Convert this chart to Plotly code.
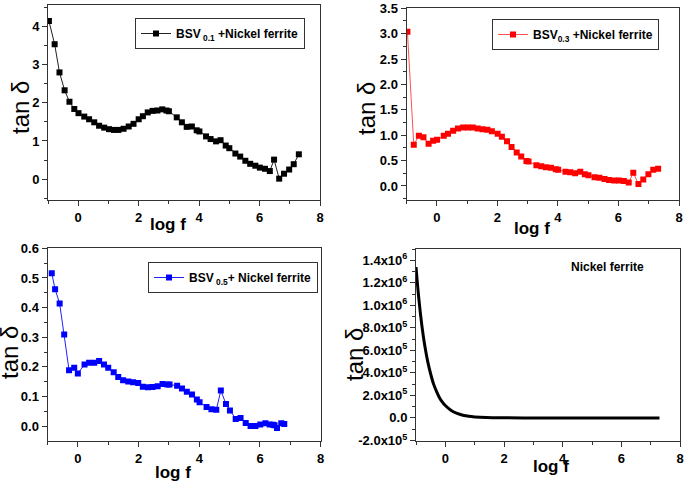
import plotly.graph_objects as go

# ---- data ----
logf_01 = [-0.97, -0.78, -0.62, -0.45, -0.29, -0.13, 0.01, 0.20, 0.36, 0.53, 0.69, 0.86,
           1.02, 1.18, 1.33, 1.50, 1.67, 1.83, 2.00, 2.14, 2.30, 2.46, 2.62, 2.78, 2.92,
           3.00, 3.26, 3.43, 3.59, 3.76, 3.92, 4.01, 4.23, 4.38, 4.56, 4.71, 4.88, 5.00,
           5.20, 5.36, 5.53, 5.69, 5.86, 6.01, 6.18, 6.34, 6.48, 6.65, 6.81, 6.98, 7.13, 7.30]
tan_01 = [4.15, 3.54, 2.80, 2.33, 2.03, 1.84, 1.73, 1.64, 1.57, 1.49, 1.40, 1.35,
          1.31, 1.29, 1.29, 1.32, 1.38, 1.45, 1.57, 1.65, 1.75, 1.79, 1.80, 1.83, 1.80,
          1.78, 1.62, 1.49, 1.37, 1.38, 1.28, 1.25, 1.12, 1.05, 0.99, 1.02, 0.88, 0.81,
          0.67, 0.59, 0.48, 0.40, 0.35, 0.30, 0.27, 0.21, 0.51, 0.01, 0.14, 0.25, 0.39, 0.65]

logf_03 = [-0.97, -0.76, -0.59, -0.44, -0.27, -0.12, 0.01, 0.23, 0.37, 0.54, 0.70, 0.87,
           1.03, 1.19, 1.35, 1.51, 1.67, 1.82, 2.01, 2.15, 2.32, 2.47, 2.64, 2.79, 2.96,
           3.03, 3.29, 3.45, 3.60, 3.77, 3.93, 4.01, 4.25, 4.41, 4.57, 4.74, 4.89, 5.01,
           5.21, 5.37, 5.54, 5.69, 5.86, 6.02, 6.18, 6.34, 6.49, 6.66, 6.82, 6.99, 7.15, 7.31]
tan_03 = [3.04, 0.81, 0.99, 0.96, 0.83, 0.89, 0.91, 0.99, 1.03, 1.09, 1.13, 1.15,
          1.15, 1.15, 1.13, 1.12, 1.11, 1.08, 1.03, 0.97, 0.88, 0.77, 0.66, 0.58, 0.49,
          0.48, 0.41, 0.39, 0.37, 0.36, 0.33, 0.32, 0.28, 0.27, 0.25, 0.28, 0.23, 0.21,
          0.17, 0.16, 0.14, 0.12, 0.11, 0.11, 0.10, 0.07, 0.26, 0.04, 0.13, 0.23, 0.32, 0.34]

logf_05 = [-0.86, -0.75, -0.60, -0.45, -0.29, -0.12, 0.00, 0.22, 0.37, 0.54, 0.70, 0.86,
           1.00, 1.18, 1.33, 1.49, 1.66, 1.82, 1.99, 2.14, 2.31, 2.46, 2.63, 2.79, 2.95,
           3.02, 3.27, 3.43, 3.59, 3.76, 3.92, 4.01, 4.24, 4.40, 4.56, 4.71, 4.88, 5.01,
           5.20, 5.36, 5.53, 5.69, 5.85, 6.01, 6.18, 6.32, 6.43, 6.48, 6.56, 6.70, 6.80]
tan_05 = [0.516, 0.462, 0.414, 0.309, 0.189, 0.197, 0.178, 0.208, 0.214, 0.214, 0.220, 0.208,
          0.197, 0.182, 0.166, 0.155, 0.151, 0.148, 0.146, 0.133, 0.131, 0.132, 0.135, 0.142, 0.141,
          0.141, 0.136, 0.127, 0.116, 0.107, 0.090, 0.081, 0.065, 0.057, 0.055, 0.120, 0.075, 0.053,
          0.024, 0.028, 0.011, 0.001, 0.001, 0.006, 0.010, 0.006, 0.005, 0.003, -0.006, 0.010, 0.007]

logf_nf = [-1.0, -0.9, -0.8, -0.7, -0.6, -0.5, -0.4, -0.3, -0.2, -0.1, 0.0, 0.2, 0.4,
           0.6, 0.8, 1.0, 1.4, 2.0, 3.0, 4.0, 5.0, 6.0, 7.3]
tan_nf = [1.34e6, 1.05e6, 8.2e5, 6.4e5, 5.0e5, 3.9e5, 3.0e5, 2.35e5, 1.8e5, 1.4e5, 1.1e5,
          6.6e4, 4.0e4, 2.4e4, 1.4e4, 8.5e3, 3.0e3, 8.0e2, 1.0e2, 0, 0, 0, 0]

x_ticks = [0, 2, 4, 6, 8]
y_ticks_nf = [-2e5, 0, 2e5, 4e5, 6e5, 8e5, 1e6, 1.2e6, 1.4e6]
y_labels_nf = ['-2.0x10<sup>5</sup>', '0.0', '2.0x10<sup>5</sup>', '4.0x10<sup>5</sup>',
               '6.0x10<sup>5</sup>', '8.0x10<sup>5</sup>', '1.0x10<sup>6</sup>',
               '1.2x10<sup>6</sup>', '1.4x10<sup>6</sup>']

FONT = 'Liberation Sans, Arial, sans-serif'
W, H = 685, 484
AX = '#333333'


def px_x(p):
    return p / W


def px_y(p):
    return 1 - p / H


fig = go.Figure()

fig.add_trace(go.Scatter(x=logf_01, y=tan_01, mode='lines+markers', xaxis='x', yaxis='y',
                         line=dict(color='#222222', width=1),
                         marker=dict(symbol='square', size=6, color='black'),
                         name='BSV<sub> 0.1</sub> +Nickel ferrite', legend='legend'))
fig.add_trace(go.Scatter(x=logf_03, y=tan_03, mode='lines+markers', xaxis='x2', yaxis='y2',
                         line=dict(color='#ff5050', width=1),
                         marker=dict(symbol='square', size=6, color='#ff0000'),
                         name='BSV<sub>0.3</sub> +Nickel ferrite', legend='legend2'))
fig.add_trace(go.Scatter(x=logf_05, y=tan_05, mode='lines+markers', xaxis='x3', yaxis='y3',
                         line=dict(color='#2020ff', width=1),
                         marker=dict(symbol='square', size=6, color='#0000ff'),
                         name='BSV<sub> 0.5</sub>+ Nickel ferrite', legend='legend3'))
fig.add_trace(go.Scatter(x=logf_nf, y=tan_nf, mode='lines', xaxis='x4', yaxis='y4',
                         line=dict(color='black', width=3, shape='spline'),
                         showlegend=False))

axis_common = dict(showline=True, linecolor=AX, linewidth=1, mirror=True,
                   ticks='outside', ticklen=5, tickwidth=1, tickcolor=AX,
                   showgrid=False, zeroline=False, automargin=False,
                   tickfont=dict(family=FONT, size=13, color='black', weight='bold'))

panels = [
    dict(xd=(48, 320), yd=(5, 200), yr=[-0.55, 4.57], ytv=[0, 1, 2, 3, 4], ytt=['0', '1', '2', '3', '4'], ym=0.5),
    dict(xd=(406.5, 679), yd=(8.3, 200), yr=[-0.276, 3.5], ytv=[0, 0.5, 1, 1.5, 2, 2.5, 3, 3.5],
         ytt=['0.0', '0.5', '1.0', '1.5', '2.0', '2.5', '3.0', '3.5'], ym=0.25),
    dict(xd=(47.5, 320.7), yd=(248.3, 441), yr=[-0.05, 0.6], ytv=[0, 0.1, 0.2, 0.3, 0.4, 0.5, 0.6],
         ytt=['0.0', '0.1', '0.2', '0.3', '0.4', '0.5', '0.6'], ym=0.05),
    dict(xd=(416, 680), yd=(249, 441), yr=[-2.05e5, 1.5e6], ytv=y_ticks_nf, ytt=y_labels_nf, ym=1e5),
]

layout = {}
for i, p in enumerate(panels):
    sfx = '' if i == 0 else str(i + 1)
    layout['xaxis' + sfx] = dict(axis_common, domain=[px_x(p['xd'][0]), px_x(p['xd'][1])],
                                 range=[-1, 8], anchor='y' + sfx,
                                 tickmode='array', tickvals=x_ticks, ticktext=[str(t) for t in x_ticks],
                                 minor=dict(ticks='outside', ticklen=3, tickcolor=AX,
                                            tickvals=[-1, 1, 3, 5, 7]))
    ym = p['ym']
    lo, hi = p['yr']
    mvals = []
    v = p['ytv'][0] - ym * 4
    while v <= hi:
        if v >= lo and all(abs(v - t) > ym * 0.01 for t in p['ytv']):
            mvals.append(v)
        v += ym
    layout['yaxis' + sfx] = dict(axis_common, domain=[px_y(p['yd'][1]), px_y(p['yd'][0])],
                                 range=p['yr'], anchor='x' + sfx,
                                 tickmode='array', tickvals=p['ytv'], ticktext=p['ytt'],
                                 minor=dict(ticks='outside', ticklen=3, tickcolor=AX,
                                            tickvals=mvals))

leg_common = dict(bgcolor='white', bordercolor='#333333', borderwidth=1,
                  font=dict(family=FONT, size=12, color='black', weight='bold'),
                  xanchor='left', yanchor='top', itemwidth=30, tracegroupgap=0)
layout['legend'] = dict(leg_common, x=px_x(135), y=px_y(18))
layout['legend2'] = dict(leg_common, x=px_x(492), y=px_y(19))
layout['legend3'] = dict(leg_common, x=px_x(148), y=px_y(262))

fig.update_layout(template='none', **layout)

# axis titles and label text
annos = [
    dict(x=20, y=108, text='tan δ', angle=-90, size=24, bold=False),
    dict(x=367, y=109, text='tan δ', angle=-90, size=24, bold=False),
    dict(x=9, y=353, text='tan δ', angle=-90, size=24, bold=False),
    dict(x=354, y=355, text='tan δ', angle=-90, size=24, bold=False),
    dict(x=168, y=225, text='log f', angle=0, size=17, bold=True),
    dict(x=532, y=228, text='log f', angle=0, size=17, bold=True),
    dict(x=173, y=472, text='log f', angle=0, size=17, bold=True),
    dict(x=551, y=466, text='log f', angle=0, size=17, bold=True),
    dict(x=607, y=267, text='Nickel ferrite', angle=0, size=12, bold=True),
]
for a in annos:
    fig.add_annotation(x=px_x(a['x']), y=px_y(a['y']), xref='paper', yref='paper',
                       text=a['text'], textangle=a['angle'], showarrow=False,
                       xanchor='center', yanchor='middle',
                       font=dict(family=FONT, size=a['size'], color='black',
                                 weight='bold' if a['bold'] else 'normal'))

fig.update_layout(width=W, height=H, margin=dict(l=0, r=0, t=0, b=0),
                  paper_bgcolor='white', plot_bgcolor='white')

# drop the browser's default 8px body margin so the figure sits at the window corner
fig.write_html("out.html", config={'displayModeBar': False},
               post_script="document.body.style.margin = '0';")
